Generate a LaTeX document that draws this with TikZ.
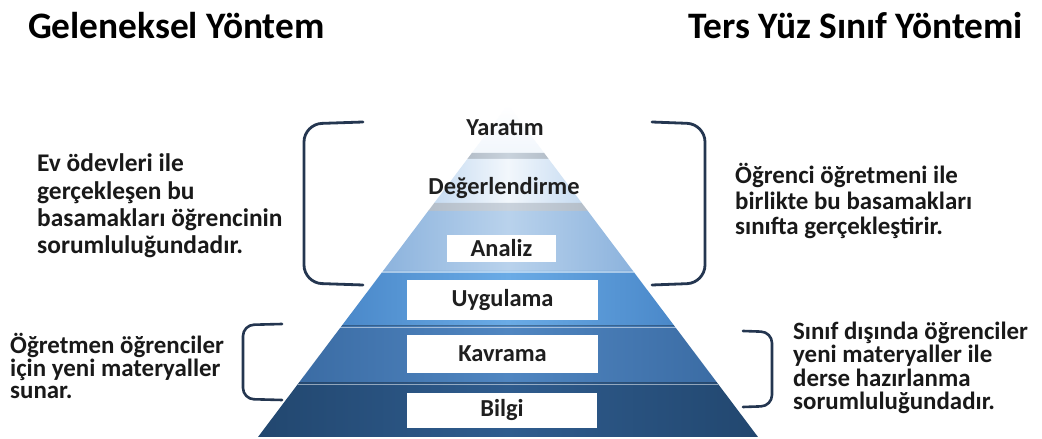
\documentclass[tikz,border=0pt]{standalone}
\usepackage{fontspec}
\setmainfont{Carlito}
\begin{document}
\begin{tikzpicture}[x=1bp,y=-1bp,
  txt/.style={font=\fontsize{25}{23}\selectfont\bfseries, text=black!90, align=left, inner sep=0pt},
  title/.style={font=\fontsize{37.5}{40}\selectfont\bfseries, text=black, inner sep=0pt},
  lvl/.style={font=\fontsize{24.5}{26}\selectfont\bfseries, text=black!88, inner sep=0pt},
  lbox/.style={fill=white, draw=none, inner sep=0pt},
  brk/.style={draw=bracketcol, line width=2.8bp, rounded corners=18bp, line cap=round},
  sbrk/.style={draw=bracketcol, line width=2.6bp, rounded corners=11bp, line cap=round},
  sep/.style={draw=white, opacity=0.5, line width=1.2bp}
]
\definecolor{bracketcol}{HTML}{243650}
\definecolor{bandE}{HTML}{B4BEC9}
\definecolor{bandM}{HTML}{C9D2DC}
\definecolor{degE}{HTML}{C6DBF1}
\definecolor{degM}{HTML}{F2F7FC}
\definecolor{anaE}{HTML}{8CB3DD}
\definecolor{anaM}{HTML}{B9D2EC}
\definecolor{uygE}{HTML}{4A88C9}
\definecolor{uygM}{HTML}{6AABE6}
\definecolor{kavE}{HTML}{3B6CA4}
\definecolor{kavM}{HTML}{5086C1}
\definecolor{bilE}{HTML}{22476F}
\definecolor{bilM}{HTML}{2F5C8E}
\useasboundingbox (0,0) rectangle (1042,439);
\fill[white] (0,0) rectangle (1042,439);

\newcommand\pyrlayer[5]{%
  \shade[left color=#3, right color=#5, middle color=#4]
    ({508-(#1-105)*0.753},#1) -- ({508+(#1-105)*0.753},#1) --
    ({508+(#2-105)*0.753},#2) -- ({508-(#2-105)*0.753},#2) -- cycle;}
\newcommand\pyrsep[2]{%
  \draw[#2] ({508-(#1-105)*0.753},#1) -- ({508+(#1-105)*0.753},#1);}

% pyramid layers
\shade[top color=white, bottom color=degM] (508,105) -- ({508+48*0.753},153) -- ({508-48*0.753},153) -- cycle;
\pyrlayer{153}{159}{bandE}{bandM}{bandE}
\pyrlayer{159}{203}{degE}{degM}{degE}
\pyrlayer{203}{211}{bandE}{bandM}{bandE}
\pyrlayer{211}{271}{anaE}{anaM}{anaE}
\pyrlayer{271}{326}{uygE}{uygM}{uygE}
\pyrlayer{326}{383}{kavE}{kavM}{kavE}
\pyrlayer{383}{437}{bilE}{bilM}{bilE}
\pyrsep{272}{sep}
\pyrsep{327.5}{sep}
\pyrsep{384.5}{sep}
\pyrsep{325.8}{draw=black, opacity=0.3, line width=1bp}
\pyrsep{382.8}{draw=black, opacity=0.3, line width=1bp}

% level labels
\node[lvl] (yaratim) at (505,128) {Yaratım};
\node[lvl] (deger) at (504,188) {Değerlendirme};
\node[lbox, minimum width=109bp, minimum height=27bp] (analizbox) at (501.5,248.5) {};
\node[lvl] (analiz) at (analizbox.center) {Analiz};
\node[lbox, minimum width=191bp, minimum height=40bp] (uygbox) at (502.5,300) {};
\node[lvl] (uyg) at (uygbox.center) {Uygulama};
\node[lbox, minimum width=191bp, minimum height=38bp] (kavbox) at (502.5,354) {};
\node[lvl] (kav) at (kavbox.center) {Kavrama};
\node[lbox, minimum width=190bp, minimum height=35bp] (bilbox) at (502,410.5) {};
\node[lvl] (bil) at (bilbox.center) {Bilgi};

% titles
\node[title, anchor=west] (t1) at (28,26) {Geleneksel Yöntem};
\node[title, anchor=east] (t2) at (1023,26) {Ters Yüz Sınıf Yöntemi};

% brackets
\draw[brk] (363,122) -- (304,124) -- (304,283) -- (363,285);
\draw[brk] (652,122) -- (705,124) -- (705,283) -- (652,285);
\draw[sbrk] (282,324) -- (243,325) -- (243,399) -- (282,400);
\draw[sbrk] (743,331) -- (772,332) -- (772,406) -- (743,407);

% side texts
\node[txt, font=\fontsize{25.5}{27.5}\selectfont\bfseries, anchor=west] (lt) at (37,206)
  {Ev ödevleri ile\\gerçekleşen bu\\basamakları öğrencinin\\sorumluluğundadır.};
\node[txt, font=\fontsize{25}{26}\selectfont\bfseries, anchor=west] (rt) at (735,201)
  {Öğrenci öğretmeni ile\\birlikte bu basamakları\\sınıfta gerçekleştirir.};
\node[txt, anchor=west] (lb) at (10,366)
  {Öğretmen öğrenciler\\için yeni materyaller\\sunar.};
\node[txt, font=\fontsize{25}{23.6}\selectfont\bfseries, anchor=west] (rb) at (793,368)
  {Sınıf dışında öğrenciler\\yeni materyaller ile\\derse hazırlanma\\sorumluluğundadır.};
\end{tikzpicture}
\end{document}
